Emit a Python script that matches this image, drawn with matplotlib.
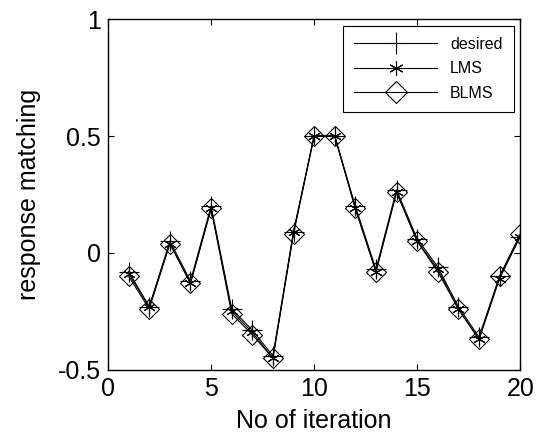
import numpy as np
import matplotlib.pyplot as plt

plt.rcParams['font.family'] = ['Liberation Sans', 'DejaVu Sans']

iteraciones = np.arange(1, 21)
deseada = [-0.08, -0.23, 0.05, -0.12, 0.20, -0.24, -0.33, -0.44, 0.09, 0.50,
           0.50, 0.20, -0.07, 0.27, 0.06, -0.06, -0.23, -0.36, -0.10, 0.07]
lms = [-0.09, -0.23, 0.04, -0.13, 0.19, -0.25, -0.34, -0.45, 0.09, 0.50,
       0.50, 0.19, -0.08, 0.26, 0.05, -0.07, -0.24, -0.37, -0.11, 0.07]
blms = [-0.10, -0.24, 0.04, -0.13, 0.19, -0.26, -0.35, -0.45, 0.08, 0.50,
        0.50, 0.19, -0.08, 0.26, 0.05, -0.08, -0.24, -0.37, -0.10, 0.08]

fig = plt.figure(figsize=(5.43, 4.45), dpi=100)
ax = fig.add_axes([0.199, 0.169, 0.759, 0.788])

ax.plot(iteraciones, deseada, color='k', lw=0.8, marker='+', ms=14, mew=0.8, label='desired')
ax.plot(iteraciones, lms, color='k', lw=0.8, marker=(6, 2, 0), ms=9, mew=0.8, label='LMS')
ax.plot(iteraciones, blms, color='k', lw=0.8, marker='D', ms=10, mew=0.8,
        mfc='none', label='BLMS')

ax.set_xlim(0, 20)
ax.set_ylim(-0.5, 1)
ax.set_xticks([0, 5, 10, 15, 20])
ax.set_yticks([-0.5, 0, 0.5, 1])
ax.set_yticklabels(['-0.5', '0', '0.5', '1'])
ax.tick_params(direction='in', labelsize=18, top=True, right=True, length=4, pad=5)
ax.set_xlabel('No of iteration', fontsize=18, labelpad=6)
ax.set_ylabel('response matching', fontsize=18, labelpad=12)
for s in ax.spines.values():
    s.set_linewidth(1.0)

leg = ax.legend(loc='upper right', fontsize=11.5, fancybox=False, edgecolor='k',
                handlelength=5.2, labelspacing=0.6, borderpad=0.7,
                borderaxespad=0.4, framealpha=1, markerscale=1.15)
leg.get_frame().set_linewidth(0.8)

fig.savefig('out.png', dpi=100)
